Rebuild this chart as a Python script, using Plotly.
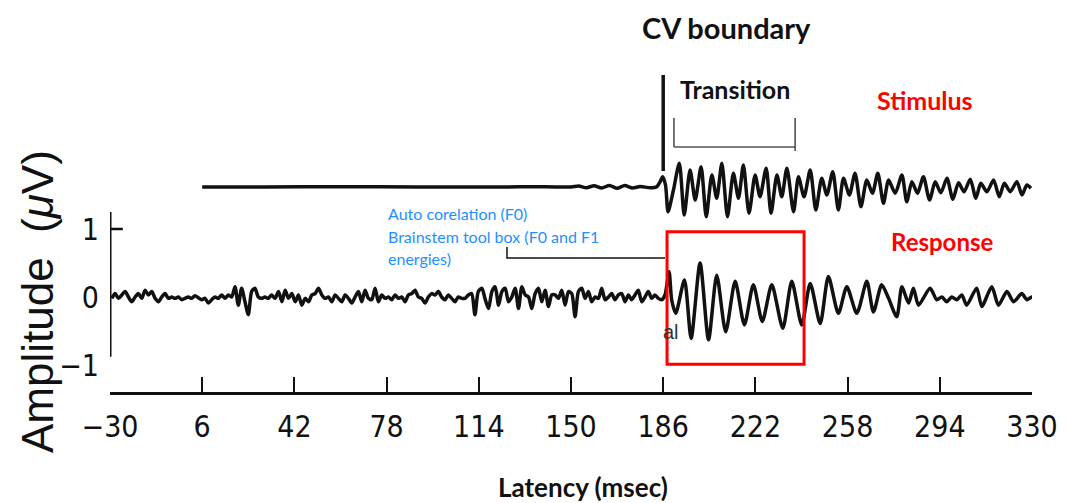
import plotly.graph_objects as go

# ---- Response waveform: latency (ms) and amplitude (µV) ----
resp_ms = [
    -29.3, -28.0, -26.7, -25.4, -24.1, -22.8, -21.5, -20.2, -18.9, -17.6,
    -16.3, -15.0, -13.7, -12.4, -11.1, -9.8, -8.5, -7.2, -5.9, -4.6,
    -3.3, -2.0, -0.7, 0.6, 1.9, 3.2, 4.5, 5.8, 7.1, 8.4,
    9.7, 11.0, 12.3, 13.6, 14.9, 16.2, 17.5, 18.8, 20.1, 21.4,
    22.7, 24.0, 25.3, 26.6, 27.9, 29.2, 30.5, 31.8, 33.1, 34.4,
    35.8, 37.1, 38.4, 39.7, 41.0, 42.3, 43.6, 44.9, 46.2, 47.5,
    48.8, 50.1, 51.4, 52.7, 54.0, 55.3, 56.6, 57.9, 59.2, 60.5,
    61.8, 63.1, 64.4, 65.7, 67.0, 68.3, 69.6, 70.9, 72.2, 73.5,
    74.8, 76.1, 77.4, 78.7, 80.0, 81.3, 82.6, 83.9, 85.2, 86.5,
    87.8, 89.1, 90.4, 91.7, 93.0, 94.3, 95.6, 96.9, 98.2, 99.5,
    100.8, 102.1, 103.4, 104.7, 106.0, 107.3, 108.6, 109.9, 111.2, 112.5,
    113.8, 115.2, 116.4, 117.8, 119.1, 120.4, 121.7, 123.0, 124.3, 125.6,
    126.9, 128.2, 129.5, 130.8, 132.1, 133.4, 134.7, 136.0, 137.3, 138.6,
    139.9, 141.2, 142.5, 143.8, 145.1, 146.4, 147.7, 149.0, 150.3, 151.6,
    152.9, 154.2, 155.5, 156.8, 158.1, 159.4, 160.7, 162.0, 163.3, 164.6,
    165.9, 167.2, 168.5, 169.8, 171.1, 172.4, 173.7, 175.0, 176.3, 177.6,
    178.9, 180.2, 181.5, 182.8, 184.1, 185.4, 186.7, 188.3, 189.3, 190.9,
    194.3, 196.9, 200.4, 203.7, 206.9, 210.4, 214.1, 217.7, 221.2, 224.7,
    228.4, 232.7, 236.2, 240.1, 243.4, 247.3, 250.5, 254.4, 257.7, 261.6,
    265.5, 268.1, 271.3, 274.0, 277.2, 279.2, 281.8, 283.7, 285.7, 290.2,
    292.8, 294.8, 296.7, 298.7, 300.6, 302.6, 304.5, 308.4, 310.4, 314.3,
    316.9, 320.2, 322.8, 326.0, 328.0, 329.9, 331.0,
]
resp_uv = [
    -0.02, 0.05, -0.02, 0.03, 0.08, 0.00, -0.07, 0.00, 0.05, -0.02,
    0.10, 0.03, 0.08, -0.02, -0.07, 0.00, 0.05, -0.02, 0.00, -0.02,
    0.00, -0.04, -0.02, 0.00, -0.02, 0.02, -0.01, -0.04, -0.02, -0.09,
    -0.04, 0.00, -0.02, 0.03, -0.02, 0.03, 0.00, 0.15, -0.12, 0.13,
    -0.07, -0.26, 0.08, 0.13, 0.00, -0.02, 0.00, -0.02, 0.03, -0.02,
    0.08, -0.07, 0.10, -0.02, 0.05, -0.07, 0.03, -0.12, -0.02, -0.07,
    0.03, 0.05, 0.13, 0.03, -0.02, 0.00, -0.07, 0.03, -0.02, -0.07,
    0.03, -0.02, -0.09, 0.00, 0.08, -0.07, 0.10, -0.02, -0.04, 0.13,
    -0.07, 0.03, -0.02, 0.00, -0.04, 0.03, -0.02, 0.00, -0.07, 0.03,
    0.05, 0.10, 0.00, -0.02, -0.09, 0.00, 0.05, 0.03, 0.08, 0.00,
    -0.04, 0.03, -0.02, -0.07, 0.00, -0.02, -0.02, 0.03, 0.05, -0.26,
    0.08, 0.13, -0.02, -0.17, 0.08, 0.15, -0.12, 0.08, 0.13, -0.07,
    0.00, 0.13, -0.17, 0.15, 0.03, 0.00, -0.17, 0.05, 0.13, -0.07,
    0.10, -0.14, 0.03, 0.03, -0.02, 0.10, -0.12, 0.08, 0.05, -0.29,
    0.08, 0.13, -0.02, 0.08, -0.07, 0.00, -0.02, 0.13, -0.04, 0.00,
    0.05, -0.04, 0.03, 0.05, -0.07, 0.03, -0.04, 0.03, 0.10, -0.07,
    0.00, 0.08, -0.02, 0.03, -0.02, -0.04, 0.03, 0.37, -0.04, -0.24,
    0.25, -0.61, 0.50, -0.63, 0.32, -0.51, 0.23, -0.41, 0.18, -0.36,
    0.18, -0.46, 0.23, -0.41, 0.20, -0.39, 0.30, -0.24, 0.15, -0.24,
    0.23, -0.22, 0.18, -0.02, -0.29, 0.15, -0.09, 0.13, -0.12, 0.13,
    -0.04, 0.00, -0.07, 0.00, -0.04, 0.03, -0.12, 0.13, -0.14, 0.15,
    -0.12, 0.08, -0.07, 0.05, -0.04, 0.00, -0.02,
]

# ---- Stimulus waveform: latency (ms) and relative amplitude ----
stim_ms = [
    6.0, 30.0, 60.0, 90.0, 120.0, 140.0, 150.0, 153.0, 156.0, 159.0,
    162.0, 165.0, 168.0, 171.0, 174.0, 177.0, 180.9, 183.5, 184.8, 185.8,
    186.9, 187.9, 190.0, 192.3, 194.2, 196.5, 198.5, 200.8, 202.8, 205.0,
    206.9, 208.9, 211.1, 213.4, 215.4, 217.3, 219.5, 221.9, 223.8, 226.2,
    228.1, 230.4, 232.3, 234.3, 236.9, 238.8, 241.0, 243.4, 245.6, 247.9,
    249.9, 252.2, 254.4, 256.4, 258.7, 260.9, 263.2, 265.5, 267.7, 269.8,
    272.0, 274.0, 276.6, 279.2, 281.1, 283.1, 285.3, 287.6, 290.0, 292.2,
    294.4, 296.8, 299.1, 301.3, 303.5, 305.9, 308.1, 310.0, 312.4, 315.0,
    317.2, 319.2, 321.5, 324.1, 326.1, 328.0, 329.6,
]
stim_au = [
    0.00, 0.00, 0.01, 0.00, 0.00, 0.01, 0.00, 0.04, -0.03, 0.05,
    -0.04, 0.06, -0.05, 0.06, -0.04, 0.02, -0.03, 0.01, 0.21, 0.41,
    0.08, -0.99, -0.12, 0.95, -1.12, 0.68, -0.52, 0.81, -1.19, 0.48,
    -0.45, 0.95, -1.19, 0.55, -0.45, 0.88, -1.05, 0.48, -0.39, 0.75,
    -1.05, 0.48, -0.39, 0.75, -0.99, 0.41, -0.39, 0.68, -0.92, 0.35,
    -0.32, 0.61, -0.92, 0.35, -0.32, 0.55, -0.79, 0.28, -0.25, 0.55,
    -0.65, 0.28, -0.25, 0.48, -0.59, 0.21, -0.25, 0.41, -0.52, 0.21,
    -0.23, 0.35, -0.49, 0.17, -0.19, 0.31, -0.45, 0.15, -0.19, 0.28,
    -0.39, 0.15, -0.19, 0.21, -0.32, 0.08, -0.05,
]

# ---- Axis ticks ----
x_ticks = [-30, 6, 42, 78, 114, 150, 186, 222, 258, 294, 330]
x_tick_text = ["\u221230", "6", "42", "78", "114", "150", "186", "222", "258", "294", "330"]
y_ticks = [-1, 0, 1]
y_tick_text = ["\u22121", "0", "1"]

# ---- Annotated time points (ms) ----
cv_boundary_ms = 186
transition_ms = [190.2, 237.5]
response_window_ms = [187.5, 241.0]
response_window_uv = [-0.99, 0.96]

# ---- Canvas geometry ----
W, H = 1067, 503
ML, MR, MT, MB = 110, 35, 0, 110
PW, PH = W - ML - MR, H - MT - MB


def fx(p):
    """Horizontal pixel -> paper fraction."""
    return (p - ML) / PW


def fy(p):
    """Vertical pixel -> paper fraction."""
    return (H - MB - p) / PH


LINE = "#111111"
NARROW = "Liberation Sans Narrow, Arial Narrow, DejaVu Sans Condensed, sans-serif"
HUMANIST = "Lato, Open Sans, sans-serif"

fig = go.Figure()

fig.add_trace(go.Scatter(
    x=resp_ms, y=resp_uv, mode="lines",
    line=dict(color=LINE, width=3.5, shape="spline", smoothing=0.7),
    xaxis="x", yaxis="y", showlegend=False, hoverinfo="skip",
))
fig.add_trace(go.Scatter(
    x=stim_ms, y=stim_au, mode="lines",
    line=dict(color=LINE, width=3.5, shape="spline", smoothing=0.7),
    xaxis="x", yaxis="y2", showlegend=False, hoverinfo="skip",
))

shapes = []
# Response axis line and its single tick at 1 µV
shapes.append(dict(type="line", xref="x", yref="y", x0=-30, x1=-30, y0=-0.88, y1=1.25,
                   line=dict(color=LINE, width=3)))
shapes.append(dict(type="line", xref="x", yref="y", x0=-30, x1=-25.0, y0=1, y1=1,
                   line=dict(color=LINE, width=2.5)))
# CV boundary marker
shapes.append(dict(type="line", xref="x", yref="paper", x0=cv_boundary_ms, x1=cv_boundary_ms,
                   y0=fy(171), y1=fy(75), line=dict(color=LINE, width=3.5)))
# Transition bracket
shapes.append(dict(type="line", xref="x", yref="paper", x0=transition_ms[0], x1=transition_ms[0],
                   y0=fy(147), y1=fy(118), line=dict(color="#444444", width=1.5)))
shapes.append(dict(type="line", xref="x", yref="paper", x0=transition_ms[0], x1=transition_ms[1],
                   y0=fy(147), y1=fy(147), line=dict(color="#555555", width=1.5)))
shapes.append(dict(type="line", xref="x", yref="paper", x0=transition_ms[1], x1=transition_ms[1],
                   y0=fy(151), y1=fy(118), line=dict(color="#444444", width=1.5)))
# Analysis window on the response
shapes.append(dict(type="rect", xref="x", yref="y",
                   x0=response_window_ms[0], x1=response_window_ms[1],
                   y0=response_window_uv[0], y1=response_window_uv[1],
                   line=dict(color="#ff0000", width=3)))
# Leader from the analysis note to the window
shapes.append(dict(type="path", xref="x", yref="y",
                   path="M 125.0,0.735 L 125.0,0.574 L 186.7,0.574",
                   line=dict(color=LINE, width=1.5)))

annotations = [
    dict(text="<b>CV boundary</b>", x=fx(726), y=fy(27), font=dict(family=HUMANIST, size=29, color="#111")),
    dict(text="<b>Transition</b>", x=fx(735), y=fy(89), font=dict(family=HUMANIST, size=25, color="#111")),
    dict(text="<b>Stimulus</b>", x=fx(925), y=fy(100), font=dict(family=HUMANIST, size=25, color="#ff0000")),
    dict(text="<b>Response</b>", x=fx(942), y=fy(241), font=dict(family=HUMANIST, size=24, color="#ff0000")),
    dict(text="Auto corelation (F0)", x=fx(386), y=fy(213), xanchor="left",
         font=dict(family=HUMANIST, size=16, color="#1e90ff")),
    dict(text="Brainstem tool box (F0 and F1", x=fx(386), y=fy(236), xanchor="left",
         font=dict(family=HUMANIST, size=16, color="#1e90ff")),
    dict(text="energies)", x=fx(386), y=fy(258), xanchor="left",
         font=dict(family=HUMANIST, size=16, color="#1e90ff")),
    dict(text="al", x=fx(671), y=fy(332), font=dict(family="Liberation Sans, Arial, sans-serif", size=20, color="#333")),
    dict(text="<b>Latency (msec)</b>", x=fx(583), y=fy(487), font=dict(family=HUMANIST, size=26, color="#111")),
    dict(text="Amplitude \u00a0(<i>\u03bc</i>V)", x=fx(37), y=fy(302), textangle=-90,
         font=dict(family="Liberation Sans, Arial, sans-serif", size=44, color="#111")),
]
for a in annotations:
    a.setdefault("xref", "paper")
    a.setdefault("yref", "paper")
    a.setdefault("xanchor", "center")
    a.setdefault("yanchor", "middle")
    a["showarrow"] = False

# Response axis spans pixels 212..366, with 0 µV at 297 and 68 px per µV
y_lo, y_hi = -1.02, 1.25
y_dom = [fy(297 - y_lo * 68), fy(297 - y_hi * 68)]
# Stimulus panel: baseline at 187 px, 25 px per unit
s_lo, s_hi = -1.52, 1.48
s_dom = [fy(187 - s_lo * 25), fy(187 - s_hi * 25)]

fig.update_layout(
    width=W, height=H,
    margin=dict(l=ML, r=MR, t=MT, b=MB),
    paper_bgcolor="white", plot_bgcolor="white",
    showlegend=False,
    xaxis=dict(
        range=[-30, 330], anchor="free", position=0,
        showline=True, linecolor=LINE, linewidth=2.5,
        ticks="inside", ticklen=15, tickwidth=2, tickcolor=LINE,
        tickvals=x_ticks, ticktext=x_tick_text,
        tickfont=dict(family=NARROW, size=30, color="#111"),
        ticklabelstandoff=6,
        showgrid=False, zeroline=False,
    ),
    yaxis=dict(
        domain=y_dom, range=[y_lo, y_hi], anchor="x",
        showline=False, ticks="", tickvals=y_ticks, ticktext=y_tick_text,
        tickfont=dict(family=NARROW, size=30, color="#111"),
        ticklabelstandoff=10,
        showgrid=False, zeroline=False,
    ),
    yaxis2=dict(
        domain=s_dom, range=[s_lo, s_hi], anchor="x",
        visible=False, showgrid=False, zeroline=False,
    ),
    shapes=shapes,
    annotations=annotations,
)

fig.write_html("out.html")
